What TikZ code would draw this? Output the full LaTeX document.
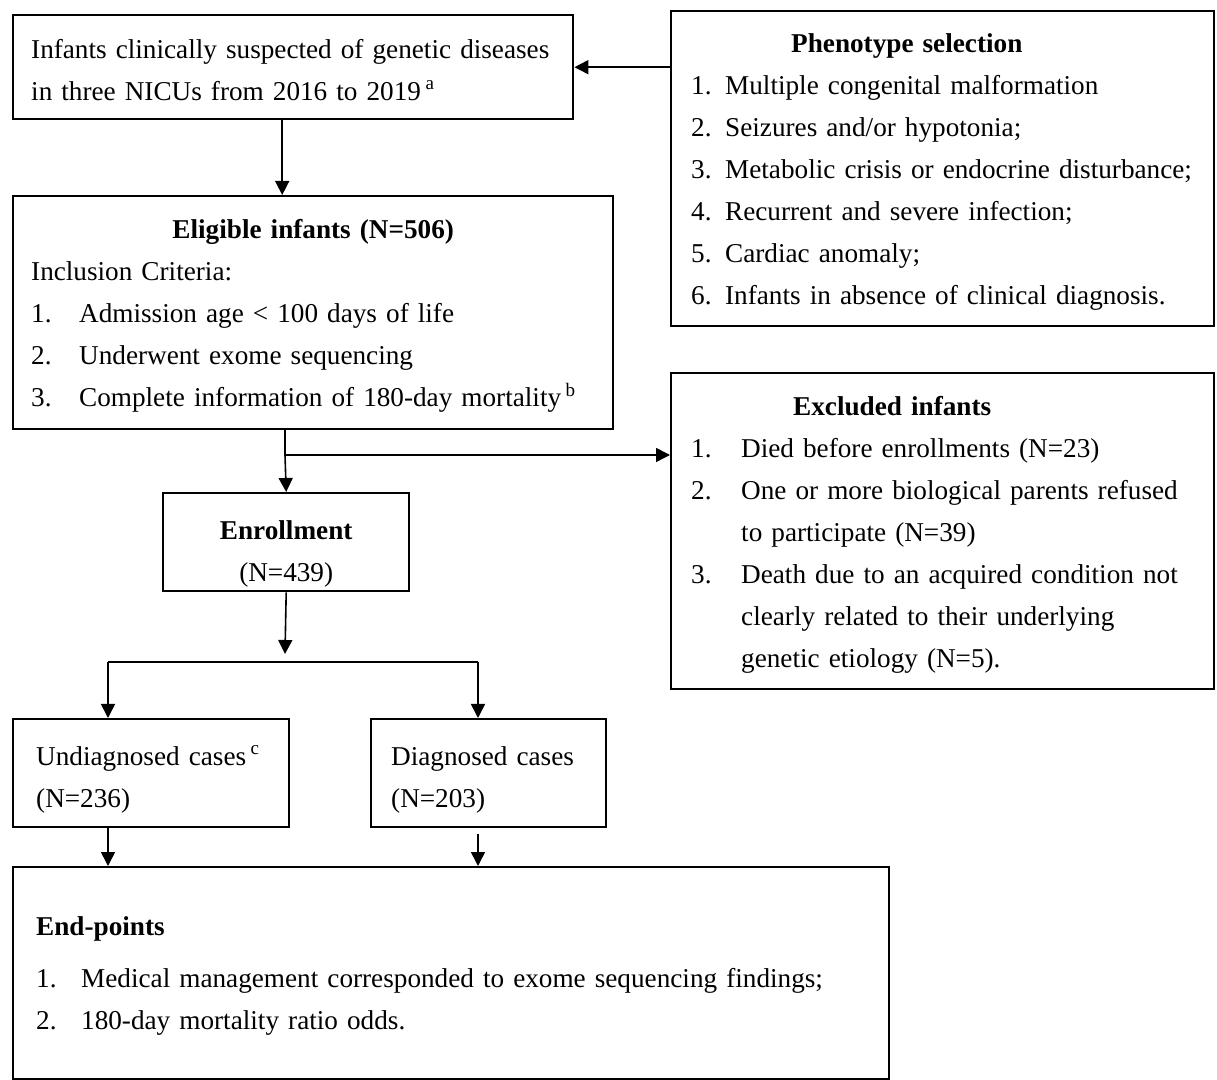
\documentclass[tikz,border=0pt]{standalone}
\usepackage{fontspec}
\setmainfont{Liberation Serif}
\usetikzlibrary{arrows.meta}

\newcommand{\itm}[2]{\makebox[#1][l]{#2}}
\newcommand{\strutto}[1]{\rule{0pt}{#1}}

\tikzset{
  box/.style={draw, line width=1.2pt, inner ysep=0pt, align=left, anchor=north west,
    font=\fontsize{13.6pt}{21pt}\selectfont},
  arr/.style={-{Triangle[length=7pt,width=7pt]}, line width=0.8pt},
  ln/.style={line width=0.8pt}
}

\begin{document}
\begin{tikzpicture}[x=0.5pt,y=-0.5pt]
    \useasboundingbox (0,0) rectangle (1217,1080);

    % top row
    \node[box, inner xsep=8pt, text width=264pt, minimum height=52pt] (A) at (12,14)
        {\strutto{12pt}\hspace*{1pt}Infants clinically suspected of genetic diseases\\
         \hspace*{1pt}in three NICUs from 2016 to 2019\,\textsuperscript{a}};
    \node[box, inner xsep=8pt, text width=255.5pt, minimum height=157.5pt] (pheno) at (670,10)
        {\strutto{13pt}\hspace*{52pt}\textbf{Phenotype selection}\\
         \hspace*{2pt}1. Multiple congenital malformation\\
         \hspace*{2pt}2. Seizures and/or hypotonia;\\
         \hspace*{2pt}3. Metabolic crisis or endocrine disturbance;\\
         \hspace*{2pt}4. Recurrent and severe infection;\\
         \hspace*{2pt}5. Cardiac anomaly;\\
         \hspace*{2pt}6. Infants in absence of clinical diagnosis.};

    % eligibility
    \node[box, inner xsep=9pt, text width=282pt, minimum height=116.5pt] (elig) at (12,195)
        {\strutto{13pt}\makebox[\hsize]{\textbf{Eligible infants (N=506)}}\\
         Inclusion Criteria:\\
         \itm{24pt}{1.}Admission age < 100 days of life\\
         \itm{24pt}{2.}Underwent exome sequencing\\
         \itm{24pt}{3.}Complete information of 180-day mortality\,\textsuperscript{b}};
    \node[box, inner xsep=8pt, text width=255.5pt, minimum height=158pt] (excl) at (670,372)
        {\strutto{13pt}\hspace*{53pt}\textbf{Excluded infants}\\
         \hspace*{2pt}\itm{25pt}{1.}Died before enrollments (N=23)\\
         \hspace*{2pt}\itm{25pt}{2.}One or more biological parents refused\\
         \hspace*{27pt}to participate (N=39)\\
         \hspace*{2pt}\itm{25pt}{3.}Death due to an acquired condition not\\
         \hspace*{27pt}clearly related to their underlying\\
         \hspace*{27pt}genetic etiology (N=5).};

    \node[box, align=center, inner xsep=9pt, text width=105pt, minimum height=49pt] (enrol) at (162,492)
        {\strutto{21pt}\textbf{Enrollment}\\(N=439)};

    % groups
    \node[box, inner xsep=11.5pt, text width=115pt, minimum height=54pt] (undiag) at (12,718)
        {\strutto{16pt}Undiagnosed cases\,\textsuperscript{c}\\(N=236)};
    \node[box, inner xsep=10pt, text width=97.5pt, minimum height=54pt] (diag) at (370,718)
        {\strutto{16pt}Diagnosed cases\\(N=203)};

    \node[box, inner xsep=11.5pt, text width=415pt, minimum height=106pt] (endp) at (12,866)
        {\strutto{12pt}\textbf{End-points}\\[5pt]
         \itm{22.5pt}{1.}Medical management corresponded to exome sequencing findings;\\
         \itm{22.5pt}{2.}180-day mortality ratio odds.};

    % connectors
    \coordinate (split) at (285,455);
    \coordinate (forktip) at (285,654);
    \coordinate (fl) at (108,662);
    \coordinate (fr) at (478,662);

    \draw[arr] (A.east -| pheno.west) -- (A.east);
    \draw[arr] ([xshift=-5.5pt]A.south) -- ([xshift=-5.5pt]A.south |- elig.north);
    \draw[ln] (elig.south -| split) -- (split);
    \draw[arr] (split) -- (split -| excl.west);
    \draw[arr] (split) -- (enrol.north);
    \draw[arr] (enrol.south) -- (forktip);
    \draw[ln] (fl) -- (fr);
    \draw[arr] (fl) -- (fl |- undiag.north);
    \draw[arr] (fr) -- (fr |- diag.north);
    \draw[arr] (undiag.south -| fl) -- (fl |- endp.north);
    \draw[arr] ([yshift=-3pt]diag.south -| fr) -- (fr |- endp.north);
\end{tikzpicture}
\end{document}
